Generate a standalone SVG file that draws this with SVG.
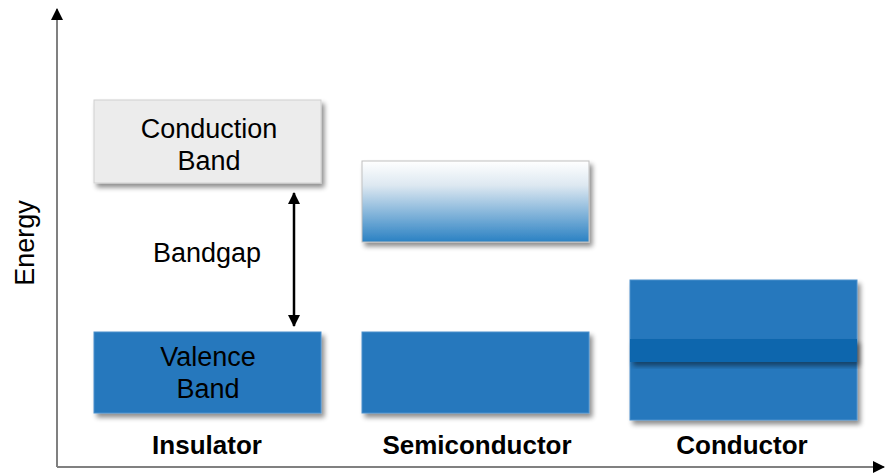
<svg xmlns="http://www.w3.org/2000/svg" width="886" height="475" viewBox="0 0 886 475">
<defs>
<filter id="sh" x="-10%" y="-20%" width="125%" height="150%">
<feGaussianBlur in="SourceAlpha" stdDeviation="2.5"/>
<feOffset dx="3" dy="4" result="b"/>
<feComponentTransfer><feFuncA type="linear" slope="0.45"/></feComponentTransfer>
<feMerge><feMergeNode/><feMergeNode in="SourceGraphic"/></feMerge>
</filter>
<linearGradient id="semi" x1="0" y1="0" x2="0" y2="1">
<stop offset="0" stop-color="#ffffff"/>
<stop offset="0.3" stop-color="#dde8f1"/>
<stop offset="1" stop-color="#2a81c3"/>
</linearGradient>
<marker id="ah" viewBox="0 0 12 12" refX="11" refY="6" markerWidth="12" markerHeight="12" markerUnits="userSpaceOnUse" orient="auto-start-reverse">
<path d="M0,0 L12,6 L0,12 z" fill="#000"/>
</marker>
<marker id="axh" viewBox="0 0 12 12" refX="11" refY="6" markerWidth="12" markerHeight="12" markerUnits="userSpaceOnUse" orient="auto">
<path d="M0,0 L12,6 L0,12 z" fill="#000"/>
</marker>
<style>
.t{font-family:"Liberation Sans",Arial,sans-serif;font-size:27px;fill:#000;text-anchor:middle}
.b{font-weight:bold;font-size:26px}
.blue{fill:#2778bd;stroke:#4a90cc;stroke-width:1}
</style>
</defs>
<rect width="886" height="475" fill="#fff"/>
<g id="axes">
<line x1="57" y1="467" x2="57" y2="9" stroke="#808080" stroke-width="2" marker-end="url(#axh)"/>
<line x1="57" y1="467" x2="884" y2="467" stroke="#808080" stroke-width="2" marker-end="url(#axh)"/>
<text class="t" transform="translate(34,243) rotate(-90)">Energy</text>
</g>
<g id="conduction-band">
<rect x="94" y="100" width="227" height="83" fill="#ececec" stroke="#d0d0d0" stroke-width="1" filter="url(#sh)"/>
<text class="t" x="209" y="138">Conduction</text>
<text class="t" x="209" y="170">Band</text>
</g>
<g id="valence-band">
<rect class="blue" x="94" y="332" width="227" height="81" filter="url(#sh)"/>
<text class="t" x="208" y="366">Valence</text>
<text class="t" x="208" y="398">Band</text>
</g>
<g id="bandgap">
<text class="t" x="207" y="262">Bandgap</text>
</g>
<g id="semi-conduction">
<rect x="362" y="161" width="227" height="81" fill="url(#semi)" stroke="#c0c0c0" stroke-width="1" filter="url(#sh)"/>
</g>
<g id="semi-valence">
<rect class="blue" x="362" y="332" width="227" height="81" filter="url(#sh)"/>
</g>
<g id="conductor">
<rect class="blue" x="630" y="280" width="227" height="140" filter="url(#sh)"/>
<rect x="630" y="339" width="227" height="23" fill="#0766ad" filter="url(#sh)"/>
</g>
<g id="labels">
<text class="t b" x="207" y="454">Insulator</text>
<text class="t b" x="477" y="454">Semiconductor</text>
<text class="t b" x="742" y="454">Conductor</text>
</g>
<g id="connectors">
<line x1="294" y1="193" x2="294" y2="326" stroke="#000" stroke-width="2.5" marker-start="url(#ah)" marker-end="url(#ah)"/>
</g>
</svg>
